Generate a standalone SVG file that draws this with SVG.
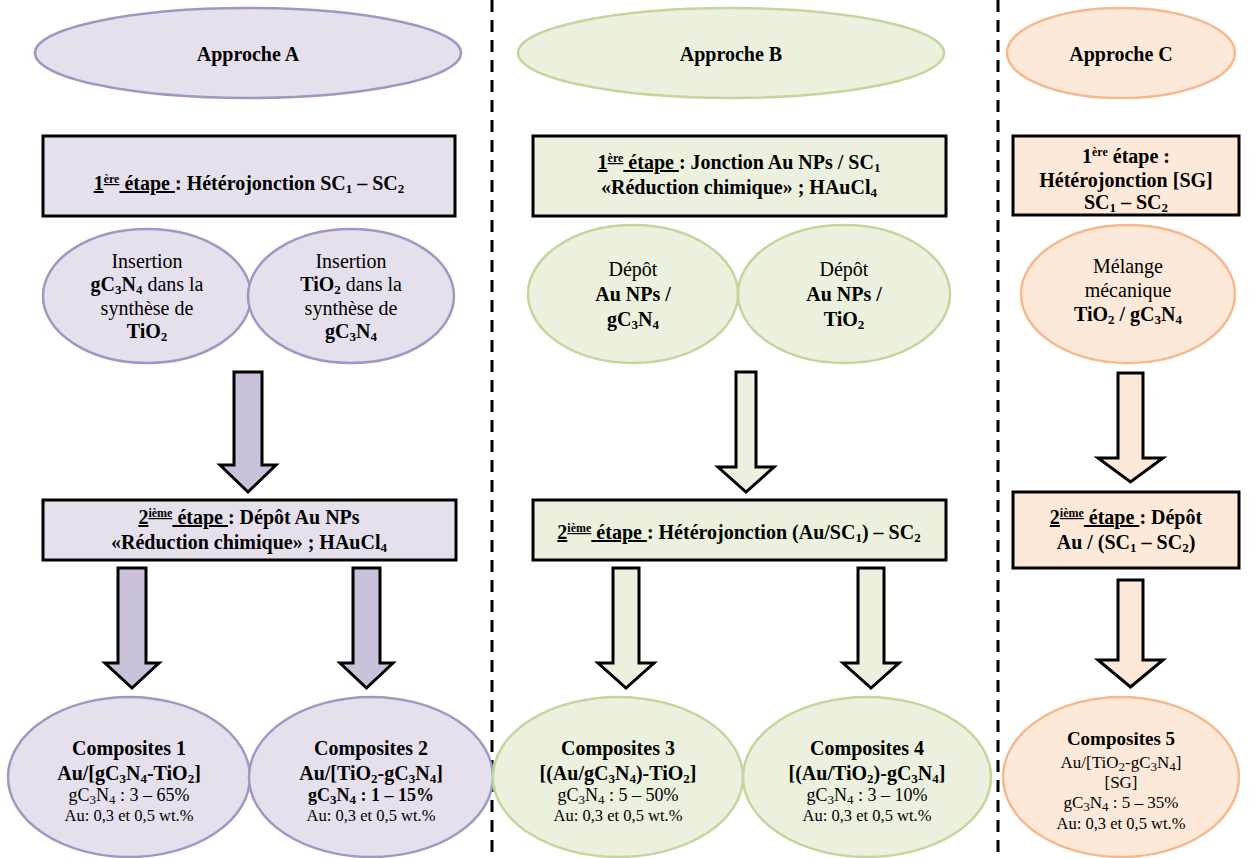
<svg xmlns="http://www.w3.org/2000/svg" width="1250" height="858" viewBox="0 0 1250 858">
<style>
text{font-family:'Liberation Serif','Tinos','DejaVu Serif','Noto Serif','Times New Roman',Times,serif;fill:#000;text-anchor:middle}
.b{font-weight:bold}
.ti{font-size:20px;font-weight:bold}
.rt{font-size:20px;font-weight:bold}
.et{font-size:20px}
.c1{font-size:20px;font-weight:bold}
.c3{font-size:18px}
.c4{font-size:16.5px}
.c5{font-size:17px}
.sb{font-size:13px;baseline-shift:-3px}
.sp{font-size:12px;baseline-shift:7px}
.u{text-decoration:underline}
.eA{fill:#e5e0ec;stroke:#a297c0;stroke-width:2.5}
.eB{fill:#ebf1de;stroke:#c3d69b;stroke-width:2.5}
.eC{fill:#fde9d9;stroke:#f5b98d;stroke-width:2.5}
.rA{fill:#e5e0ec;stroke:#000;stroke-width:3}
.rB{fill:#ebf1de;stroke:#000;stroke-width:3}
.rC{fill:#fde9d9;stroke:#000;stroke-width:3}
.aA{fill:#ccc1da;stroke:#000;stroke-width:3}
.aB{fill:#ebf1de;stroke:#000;stroke-width:3}
.aC{fill:#fde9d9;stroke:#000;stroke-width:3}
.div{stroke:#000;stroke-width:3;stroke-dasharray:12 8;fill:none}
</style>
<rect width="1250" height="858" fill="#fff"/>
<g id="dividers">
<line class="div" x1="492" y1="0" x2="492" y2="858"/>
<line class="div" x1="998" y1="0" x2="998" y2="858"/>
</g>
<g id="connectors">
<polygon class="aA" points="234,372 262,372 262,465 276,465 248,492 220,465 234,465"/>
<polygon class="aA" points="118,568 146,568 146,663 159,663 132,688 105,663 118,663"/>
<polygon class="aA" points="353,568 380,568 380,663 393,663 366.5,688 340,663 353,663"/>
<polygon class="aB" points="736,372 756,372 756,467 774,467 746,492 718,467 736,467"/>
<polygon class="aB" points="613,568 639,568 639,663 654,663 626,688 598,663 613,663"/>
<polygon class="aB" points="858,568 884,568 884,663 899,663 871,688 843,663 858,663"/>
<polygon class="aC" points="1118,373 1143,373 1143,458 1163,458 1130.5,482 1098,458 1118,458"/>
<polygon class="aC" points="1118,580 1143,580 1143,660 1163,660 1130.5,687 1098,660 1118,660"/>
</g>
<g id="approcheA">
<ellipse class="eA" cx="248" cy="53" rx="213" ry="45"/>
<text class="ti" x="248" y="61">Approche A</text>
</g>
<g id="etape1A">
<rect class="rA" x="43" y="136" width="412" height="80"/>
<text class="rt" x="249" y="190"><tspan class="u">1<tspan class="sp">ère</tspan> étape </tspan>: Hétérojonction SC<tspan class="sb">1</tspan> – SC<tspan class="sb">2</tspan></text>
</g>
<g id="insertion1">
<ellipse class="eA" cx="147" cy="296" rx="104" ry="67"/>
<text class="et" x="147" y="268">Insertion</text>
<text class="et" x="147" y="291"><tspan class="b">gC<tspan class="sb">3</tspan>N<tspan class="sb">4</tspan></tspan> dans la</text>
<text class="et" x="147" y="315">synthèse de</text>
<text class="et b" x="147" y="338">TiO<tspan class="sb">2</tspan></text>
</g>
<g id="insertion2">
<ellipse class="eA" cx="351" cy="296" rx="103" ry="67"/>
<text class="et" x="351" y="268">Insertion</text>
<text class="et" x="351" y="291"><tspan class="b">TiO<tspan class="sb">2</tspan></tspan> dans la</text>
<text class="et" x="351" y="315">synthèse de</text>
<text class="et b" x="351" y="338">gC<tspan class="sb">3</tspan>N<tspan class="sb">4</tspan></text>
</g>
<g id="etape2A">
<rect class="rA" x="43" y="500" width="413" height="60"/>
<text class="rt" x="249" y="524"><tspan class="u">2<tspan class="sp">ième</tspan> étape </tspan>: Dépôt  Au NPs</text>
<text class="rt" x="249" y="549">«Réduction chimique» ; HAuCl<tspan class="sb">4</tspan></text>
</g>
<g id="composites1">
<ellipse class="eA" cx="129" cy="777" rx="121" ry="80"/>
<text class="c1" x="129" y="755">Composites 1</text>
<text class="c1" x="129" y="780">Au/[gC<tspan class="sb">3</tspan>N<tspan class="sb">4</tspan>-TiO<tspan class="sb">2</tspan>]</text>
<text class="c3" x="129" y="801">gC<tspan class="sb">3</tspan>N<tspan class="sb">4</tspan> : 3 – 65%</text>
<text class="c4" x="129" y="821">Au: 0,3 et 0,5 wt.%</text>
</g>
<g id="composites2">
<ellipse class="eA" cx="371" cy="777" rx="122" ry="80"/>
<text class="c1" x="371" y="755">Composites 2</text>
<text class="c1" x="371" y="780">Au/[TiO<tspan class="sb">2</tspan>-gC<tspan class="sb">3</tspan>N<tspan class="sb">4</tspan>]</text>
<text class="c3 b" x="371" y="801">gC<tspan class="sb">3</tspan>N<tspan class="sb">4</tspan> : 1 – 15%</text>
<text class="c4" x="371" y="821">Au: 0,3 et 0,5 wt.%</text>
</g>
<g id="approcheB">
<ellipse class="eB" cx="731" cy="53" rx="213" ry="45"/>
<text class="ti" x="731" y="61">Approche B</text>
</g>
<g id="etape1B">
<rect class="rB" x="533" y="136" width="413" height="80"/>
<text class="rt" x="739" y="169"><tspan class="u">1<tspan class="sp">ère</tspan> étape </tspan>: Jonction Au NPs / SC<tspan class="sb">1</tspan></text>
<text class="rt" x="739" y="194">«Réduction chimique» ; HAuCl<tspan class="sb">4</tspan></text>
</g>
<g id="depot1">
<ellipse class="eB" cx="633" cy="294" rx="105" ry="69"/>
<text class="et" x="633" y="276">Dépôt</text>
<text class="et b" x="633" y="301">Au NPs /</text>
<text class="et b" x="633" y="326">gC<tspan class="sb">3</tspan>N<tspan class="sb">4</tspan></text>
</g>
<g id="depot2">
<ellipse class="eB" cx="844" cy="294" rx="106" ry="69"/>
<text class="et" x="844" y="276">Dépôt</text>
<text class="et b" x="844" y="301">Au NPs /</text>
<text class="et b" x="844" y="326">TiO<tspan class="sb">2</tspan></text>
</g>
<g id="etape2B">
<rect class="rB" x="533" y="500" width="413" height="60"/>
<text class="rt" x="739" y="539"><tspan class="u">2<tspan class="sp">ième</tspan> étape </tspan>: Hétérojonction (Au/SC<tspan class="sb">1</tspan>) – SC<tspan class="sb">2</tspan></text>
</g>
<g id="composites3">
<ellipse class="eB" cx="618" cy="777" rx="125" ry="80"/>
<text class="c1" x="618" y="755">Composites 3</text>
<text class="c1" x="618" y="780">[(Au/gC<tspan class="sb">3</tspan>N<tspan class="sb">4</tspan>)-TiO<tspan class="sb">2</tspan>]</text>
<text class="c3" x="618" y="801">gC<tspan class="sb">3</tspan>N<tspan class="sb">4</tspan> : 5 – 50%</text>
<text class="c4" x="618" y="821">Au: 0,3 et 0,5 wt.%</text>
</g>
<g id="composites4">
<ellipse class="eB" cx="867" cy="777" rx="124" ry="80"/>
<text class="c1" x="867" y="755">Composites 4</text>
<text class="c1" x="867" y="780">[(Au/TiO<tspan class="sb">2</tspan>)-gC<tspan class="sb">3</tspan>N<tspan class="sb">4</tspan>]</text>
<text class="c3" x="867" y="801">gC<tspan class="sb">3</tspan>N<tspan class="sb">4</tspan> : 3 – 10%</text>
<text class="c4" x="867" y="821">Au: 0,3 et 0,5 wt.%</text>
</g>
<g id="approcheC">
<ellipse class="eC" cx="1121" cy="53" rx="114" ry="45"/>
<text class="ti" x="1121" y="61">Approche C</text>
</g>
<g id="etape1C">
<rect class="rC" x="1013" y="136" width="226" height="79"/>
<text class="rt" x="1126" y="163">1<tspan class="sp">ère</tspan> étape :</text>
<text class="rt" x="1126" y="187">Hétérojonction [SG]</text>
<text class="rt" x="1126" y="209">SC<tspan class="sb">1</tspan> – SC<tspan class="sb">2</tspan></text>
</g>
<g id="melange">
<ellipse class="eC" cx="1128" cy="294" rx="107" ry="69"/>
<text class="et" x="1128" y="273">Mélange</text>
<text class="et" x="1128" y="297">mécanique</text>
<text class="et b" x="1128" y="321">TiO<tspan class="sb">2</tspan> / gC<tspan class="sb">3</tspan>N<tspan class="sb">4</tspan></text>
</g>
<g id="etape2C">
<rect class="rC" x="1013" y="492" width="226" height="76"/>
<text class="rt" x="1126" y="524"><tspan class="u">2<tspan class="sp">ième</tspan> étape </tspan>: Dépôt</text>
<text class="rt" x="1126" y="549">Au / (SC<tspan class="sb">1</tspan> – SC<tspan class="sb">2</tspan>)</text>
</g>
<g id="composites5">
<ellipse class="eC" cx="1121" cy="777" rx="118" ry="80"/>
<text x="1121" y="745" style="font-size:19px;font-weight:bold">Composites 5</text>
<text class="c5" x="1121" y="768">Au/[TiO<tspan class="sb">2</tspan>-gC<tspan class="sb">3</tspan>N<tspan class="sb">4</tspan>]</text>
<text class="c5" x="1121" y="788">[SG]</text>
<text class="c5" x="1121" y="808">gC<tspan class="sb">3</tspan>N<tspan class="sb">4</tspan> : 5 – 35%</text>
<text class="c4" x="1121" y="829">Au: 0,3 et 0,5 wt.%</text>
</g>
</svg>
